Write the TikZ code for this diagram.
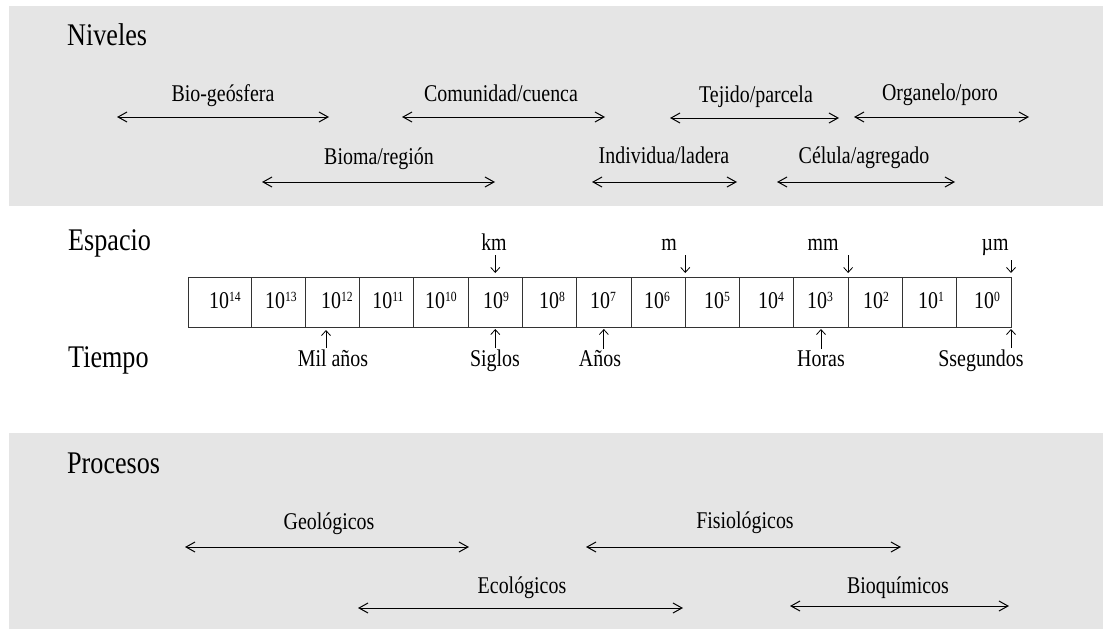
\documentclass[tikz,border=0pt]{standalone}
\usepackage{fontspec}
\setmainfont[FakeStretch=0.83]{Liberation Serif}
\usetikzlibrary{arrows.meta}
\definecolor{bandgray}{RGB}{229,229,229}
\newcommand\ex[1]{\raisebox{7pt}{\fontsize{14}{14}\selectfont #1}}
\begin{document}
\begin{tikzpicture}[x=1pt,y=-1pt,
  lbl/.style={font=\fontsize{24}{28}\selectfont, inner sep=0pt, anchor=base},
  hd/.style={font=\fontsize{31.5}{36}\selectfont, inner sep=0pt, anchor=base west},
  dblarrow/.style={line width=1pt, arrows={Straight Barb[length=9pt,width=10pt]-Straight Barb[length=9pt,width=10pt]}},
  tickarrow/.style={line width=0.8pt, arrows={-Straight Barb[length=5pt,width=9pt]}},
  cellbox/.style={draw=black!80, line width=1pt, minimum height=50pt, inner sep=0pt, outer sep=0pt}]
\useasboundingbox (0,0) rectangle (1103,629);
% bands
\fill[bandgray] (9,6) rectangle (1103,206);
\fill[bandgray] (9,433) rectangle (1103,629);

% headings
\node[hd] (niveles) at (67,45) {Niveles};
\node[hd] (espacio) at (68,250) {Espacio};
\node[hd] (tiempo) at (68,367) {Tiempo};
\node[hd] (procesos) at (67,473) {Procesos};

% Niveles
\node[lbl] (bio) at (223,101) {Bio-geósfera};
\coordinate (bioL) at (117,117); \coordinate (bioR) at (329,117);
\draw[dblarrow] (bioL) -- (bioR);
\node[lbl] (com) at (501,101) {Comunidad/cuenca};
\coordinate (comL) at (402,117); \coordinate (comR) at (605,117);
\draw[dblarrow] (comL) -- (comR);
\node[lbl] (tej) at (756,102) {Tejido/parcela};
\coordinate (tejL) at (670,118); \coordinate (tejR) at (839,118);
\draw[dblarrow] (tejL) -- (tejR);
\node[lbl] (org) at (940,100) {Organelo/poro};
\coordinate (orgL) at (854,117); \coordinate (orgR) at (1029,117);
\draw[dblarrow] (orgL) -- (orgR);
\node[lbl] (bioma) at (379,164) {Bioma/región};
\coordinate (biomaL) at (262,182); \coordinate (biomaR) at (495,182);
\draw[dblarrow] (biomaL) -- (biomaR);
\node[lbl] (ind) at (664,163) {Individua/ladera};
\coordinate (indL) at (592,182); \coordinate (indR) at (737,182);
\draw[dblarrow] (indL) -- (indR);
\node[lbl] (cel) at (864,163) {Célula/agregado};
\coordinate (celL) at (777,182); \coordinate (celR) at (955,182);
\draw[dblarrow] (celL) -- (celR);

% scale cells
\node[cellbox, minimum width=63pt] (c14) at (219.5,302) {};
\foreach \i in {13,...,0} {
  \pgfmathsetmacro\cx{251+54.2857*(13-\i)+27.1429}
  \node[cellbox, minimum width=54.2857pt] (c\i) at (\cx,302) {};
}
\foreach \i/\xx in {14/225,13/281,12/337,11/388,10/441,9/496,8/552,7/603,6/657,5/717,4/771,3/820,2/876,1/931,0/987}
  \node[lbl] (n\i) at (\xx,308) {10\ex{\i}};

% space labels
\node[lbl] (km) at (494,250) {km};
\node[lbl] (m) at (669,250) {m};
\node[lbl] (mm) at (823,250) {mm};
\node[lbl] (um) at (995,250) {µm};
\draw[tickarrow] ([yshift=-5pt]km.south -| c9.north) -- ([yshift=4pt]c9.north);
\draw[tickarrow] ([yshift=-5pt]m.south -| c6.north east) -- ([yshift=4pt]c6.north east);
\draw[tickarrow] ([yshift=-5pt]mm.south -| c3.north east) -- ([yshift=4pt]c3.north east);
\draw[tickarrow] ([yshift=-5pt]um.south -| c0.north east) -- ([yshift=4pt]c0.north east);

% time labels
\node[lbl] (mil) at (333,366) {Mil años};
\node[lbl] (sig) at (495,366) {Siglos};
\node[lbl] (anos) at (600,366) {Años};
\node[lbl] (hor) at (821,366) {Horas};
\node[lbl] (seg) at (981,366) {Ssegundos};
\coordinate (tMil) at (326,328);
\draw[tickarrow] ([yshift=1pt]mil.north -| tMil) -- ([yshift=-2pt]tMil);
\draw[tickarrow] ([yshift=1pt]sig.north -| c9.south) -- ([yshift=-2pt]c9.south);
\draw[tickarrow] ([yshift=1pt]anos.north -| c7.south) -- ([yshift=-2pt]c7.south);
\draw[tickarrow] ([yshift=1pt]hor.north -| c3.south) -- ([yshift=-2pt]c3.south);
\draw[tickarrow] ([yshift=1pt]seg.north -| c0.south east) -- ([yshift=-2pt]c0.south east);

% Procesos
\node[lbl] (geo) at (329,529) {Geológicos};
\coordinate (geoL) at (185,547); \coordinate (geoR) at (469,547);
\draw[dblarrow] (geoL) -- (geoR);
\node[lbl] (fis) at (745,528) {Fisiológicos};
\coordinate (fisL) at (586,547); \coordinate (fisR) at (901,547);
\draw[dblarrow] (fisL) -- (fisR);
\node[lbl] (eco) at (522,593) {Ecológicos};
\coordinate (ecoL) at (358,608); \coordinate (ecoR) at (683,608);
\draw[dblarrow] (ecoL) -- (ecoR);
\node[lbl] (bq) at (898,593) {Bioquímicos};
\coordinate (bqL) at (790,606); \coordinate (bqR) at (1009,606);
\draw[dblarrow] (bqL) -- (bqR);
\end{tikzpicture}
\end{document}
